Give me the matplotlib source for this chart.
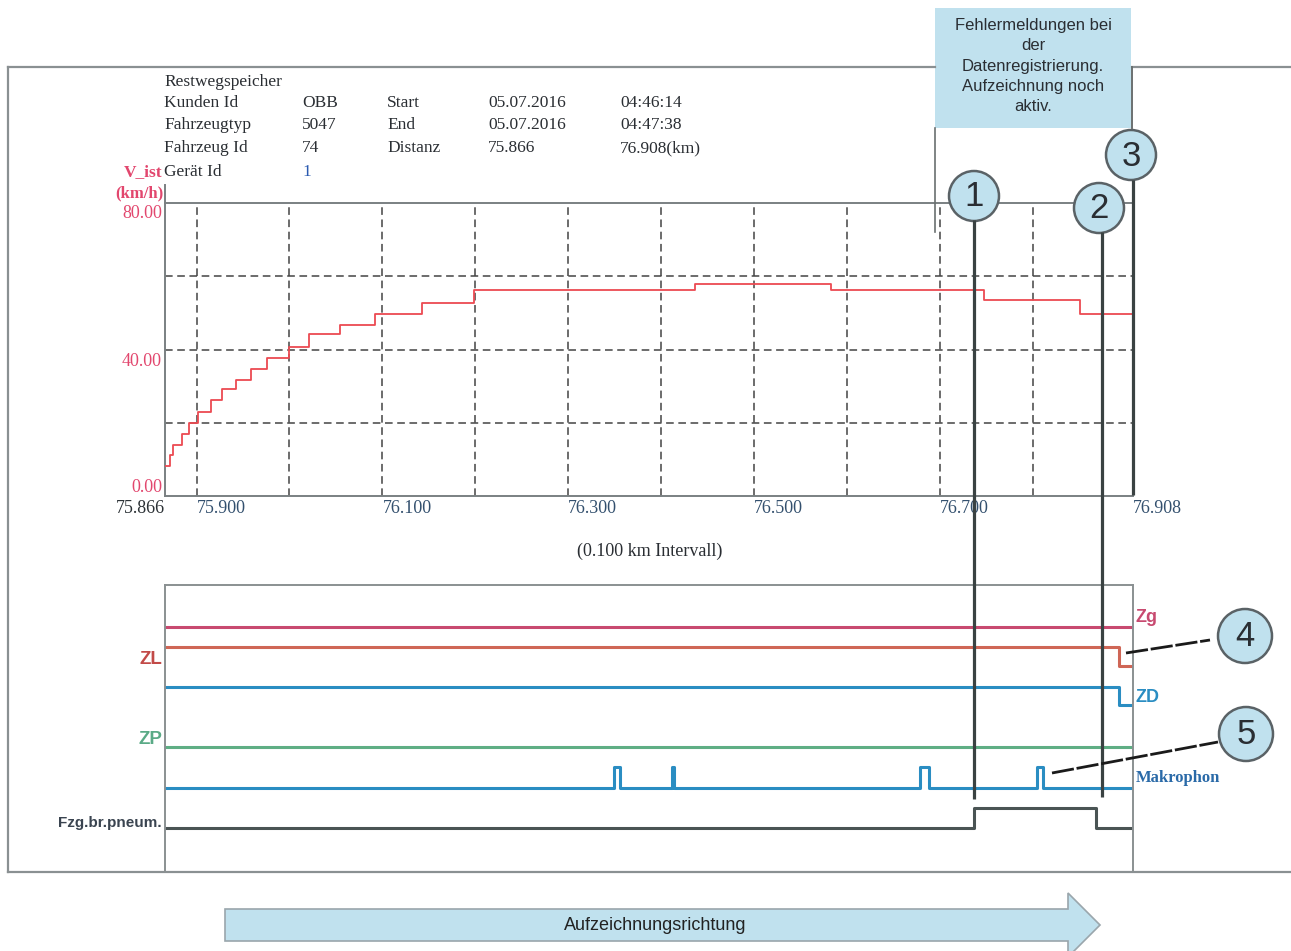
import numpy as np
import matplotlib.pyplot as plt
from matplotlib.patches import Rectangle, Circle, Polygon

W, H = 1291, 951

# Geschwindigkeit V_ist ueber Distanz (Treppenkurve)
dist_km = [75.866, 75.871, 75.875, 75.884, 75.892, 75.901, 75.915, 75.927, 75.942,
           75.959, 75.976, 75.999, 76.021, 76.054, 76.092, 76.143, 76.199, 76.436,
           76.583, 76.748, 76.851, 76.908]
v_ist = [8.2, 11.3, 14.0, 17.0, 20.0, 23.0, 26.1, 29.1, 31.7, 34.6, 37.7, 40.8,
         44.3, 46.8, 49.8, 52.8, 56.3, 57.8, 56.3, 53.6, 49.8, 49.8]

x_ticks = [75.866, 75.900, 76.100, 76.300, 76.500, 76.700, 76.908]
x_ticklabels = ["75.866", "75.900", "76.100", "76.300", "76.500", "76.700", "76.908"]
y_ticks = [0, 40, 80]
y_ticklabels = ["0.00", "40.00", "80.00"]
grid_x = [75.9, 76.0, 76.1, 76.2, 76.3, 76.4, 76.5, 76.6, 76.7, 76.8]
grid_y = [20, 40, 60]

# Digitale Signale (Zustand 0/1 ab Distanz)
zg_km = [75.866, 76.908]
zg_val = [1, 1]
zl_km = [75.866, 76.893, 76.908]
zl_val = [1, 0, 0]
zd_km = [75.866, 76.893, 76.908]
zd_val = [1, 0, 0]
zp_km = [75.866, 76.908]
zp_val = [0, 0]
makro_km = [75.866, 76.349, 76.356, 76.412, 76.414, 76.679, 76.688, 76.805, 76.811, 76.908]
makro_val = [0, 1, 0, 1, 0, 1, 0, 1, 0, 0]
brems_km = [75.866, 76.737, 76.868, 76.908]
brems_val = [0, 1, 0, 0]

# Kopfdaten
header_title = "Restwegspeicher"
header_labels = ["Kunden Id", "Fahrzeugtyp", "Fahrzeug Id", "Gerät Id"]
header_values = ["OBB", "5047", "74", "1"]
header_keys = ["Start", "End", "Distanz"]
header_dates = ["05.07.2016", "05.07.2016", "75.866"]
header_times = ["04:46:14", "04:47:38", "76.908(km)"]

SERIF = "Liberation Serif"
SANS = "Liberation Sans"
GRAY = "#8a9092"
DARK = "#3a4242"
LIGHTBLUE = "#c0e1ee"

fig = plt.figure(figsize=(W / 100, H / 100), dpi=100)


def px_axes(x0, y0, x1, y1):
    return fig.add_axes([x0 / W, 1 - y1 / H, (x1 - x0) / W, (y1 - y0) / H])


# ---- Geschwindigkeitsdiagramm
ax = px_axes(165, 203, 1133, 496)
ax.set_xlim(75.866, 76.908)
ax.set_ylim(0, 80)
ax.vlines(grid_x, 0, 80, colors="#444444", linestyles=(0, (5, 3)), lw=1.1)
ax.hlines(grid_y, 75.866, 76.908, colors="#444444", linestyles=(0, (5, 3)), lw=1.1)
ax.step(dist_km, v_ist, where="post", color="#ec4a52", lw=1.3, zorder=3)
for s in ["top", "bottom", "left"]:
    ax.spines[s].set_color("#7a8082")
    ax.spines[s].set_linewidth(1.4)
ax.spines["right"].set_visible(False)
ax.set_xticks(x_ticks, x_ticklabels, fontfamily=SERIF, fontsize=13, color="#33506e")
ax.set_yticks(y_ticks, [])
ax.tick_params(length=0, pad=3)
xl = ax.get_xticklabels()
for i, t in enumerate(xl):
    t.set_ha("right" if i == 0 else "left")
xl[0].set_color("#2c3236")
# y-Beschriftung leicht unter den Gitterlinien (wie im Original)
for val, lab, dy in zip(y_ticks, y_ticklabels, [9, -12, -10]):
    ax.annotate(lab, xy=(0, val), xycoords=("axes fraction", "data"),
                xytext=(-3, dy), textcoords="offset pixels", ha="right", va="center",
                fontfamily=SERIF, fontsize=13, color="#e2476e")

# ---- Signalspuren
ax2 = px_axes(165, 585, 1133, 872)
ax2.set_xlim(75.866, 76.908)
ax2.set_ylim(0, 287)
tracks = [
    (zg_km, zg_val, 226, 19, "#c84a70"),
    (zl_km, zl_val, 206, 19, "#cf6656"),
    (zd_km, zd_val, 167, 18, "#2a8dc2"),
    (zp_km, zp_val, 125, 20, "#5fae84"),
    (makro_km, makro_val, 84, 21, "#2a8dc2"),
    (brems_km, brems_val, 44, 20, "#4a5454"),
]
for km, val, base, amp, col in tracks:
    ax2.step(km, base + amp * np.array(val), where="post", color=col, lw=2.2)
ax2.set_xticks([])
ax2.set_yticks([])
for s in ["top", "left", "right"]:
    ax2.spines[s].set_color(GRAY)
    ax2.spines[s].set_linewidth(1.4)
ax2.spines["bottom"].set_visible(False)

# ---- Overlay in Pixelkoordinaten
ov = fig.add_axes([0, 0, 1, 1])
ov.set_xlim(0, W)
ov.set_ylim(H, 0)
ov.axis("off")
ov.patch.set_alpha(0)

# Rahmen
ov.plot([8, 935], [67, 67], color=GRAY, lw=1.6)
ov.plot([1132, W], [67, 67], color=GRAY, lw=1.6)
ov.plot([8, 8], [67, 872], color=GRAY, lw=1.6)
ov.plot([8, W], [872, 872], color=GRAY, lw=1.6)
ov.plot([1132, 1132], [67, 128], color="#6a7070", lw=1.4)
ov.plot([935, 935], [128, 232], color="#6a7070", lw=1.2)
ov.plot([165, 165], [185, 203], color="#7a8082", lw=1.4)

# Kopfdaten
tk = dict(fontfamily=SERIF, fontsize=12.5, color="#2a2e33", va="center")
ov.text(164, 82, header_title, **tk)
rows_y = [103, 125, 148, 172]
for i, y in enumerate(rows_y):
    ov.text(164, y, header_labels[i], **tk)
    ov.text(302, y, header_values[i], **dict(tk, color="#2a5ab0" if i == 3 else "#2a2e33"))
    if i < 3:
        ov.text(387, y, header_keys[i], **tk)
        ov.text(488, y, header_dates[i], **tk)
        ov.text(620, y, header_times[i], **tk)
ov.text(162, 172, "V_ist", fontfamily=SERIF, fontsize=12.5, fontweight="bold",
        color="#e2476e", ha="right", va="center")
ov.text(163, 193, "(km/h)", fontfamily=SERIF, fontsize=12, fontweight="bold",
        color="#e2476e", ha="right", va="center")
ov.text(650, 551, "(0.100 km Intervall)", fontfamily=SERIF, fontsize=13,
        color="#2a2e33", ha="center", va="center")

# Signalnamen
ov.text(162, 659, "ZL", fontfamily=SANS, fontweight="bold", fontsize=13.5,
        color="#c24a48", ha="right", va="center")
ov.text(162, 740, "ZP", fontfamily=SANS, fontweight="bold", fontsize=13.5,
        color="#5aaa86", ha="right", va="center")
ov.text(162, 823, "Fzg.br.pneum.", fontfamily=SANS, fontweight="bold", fontsize=11,
        color="#3a4450", ha="right", va="center")
ov.text(1136, 618, "Zg", fontfamily=SANS, fontweight="bold", fontsize=13,
        color="#c84a70", ha="left", va="center")
ov.text(1135, 698, "ZD", fontfamily=SANS, fontweight="bold", fontsize=13,
        color="#2a8dc2", ha="left", va="center")
ov.text(1136, 778, "Makrophon", fontfamily=SERIF, fontsize=12, fontweight="bold",
        color="#2a6aa8", ha="left", va="center")

# Hinweisbox
ov.add_patch(Rectangle((935, 8), 196, 120, facecolor=LIGHTBLUE, edgecolor="none"))
ov.text(1033, 66, "Fehlermeldungen bei\nder\nDatenregistrierung.\nAufzeichnung noch\naktiv.",
        fontfamily=SANS, fontsize=12, color="#2a2e33", ha="center", va="center",
        linespacing=1.45)

# Markierungslinien
mk = dict(color=DARK, lw=2.3, solid_capstyle="butt")
ov.plot([974, 974], [220, 799], **mk)
ov.plot([1102, 1102], [232, 797], **mk)
ov.plot([1133, 1133], [180, 495], **mk)
ov.plot([1126, 1210], [653, 640], color="#1a1a1a", lw=2, ls=(0, (8, 1)))
ov.plot([1052, 1218], [773, 742], color="#1a1a1a", lw=2, ls=(0, (8, 1)))

# Nummernkreise
for (cx, cy, r, num) in [(974, 196, 25, "1"), (1099, 208, 25, "2"), (1131, 155, 25, "3"),
                          (1245, 636, 27, "4"), (1246, 734, 27, "5")]:
    ov.add_patch(Circle((cx, cy), r, facecolor=LIGHTBLUE, edgecolor="#5a6266", lw=1.8))
    ov.text(cx, cy + 1, num, fontfamily=SANS, fontsize=25, color="#2a2e33",
            ha="center", va="center")

# Richtungspfeil
ov.add_patch(Polygon([(225, 909), (1068, 909), (1068, 893), (1100, 925),
                      (1068, 957), (1068, 941), (225, 941)], closed=True,
                     facecolor=LIGHTBLUE, edgecolor="#9aa6ac", lw=1.2))
ov.text(655, 925, "Aufzeichnungsrichtung", fontfamily=SANS, fontsize=13,
        color="#222222", ha="center", va="center")

fig.savefig("out.png", dpi=100)
